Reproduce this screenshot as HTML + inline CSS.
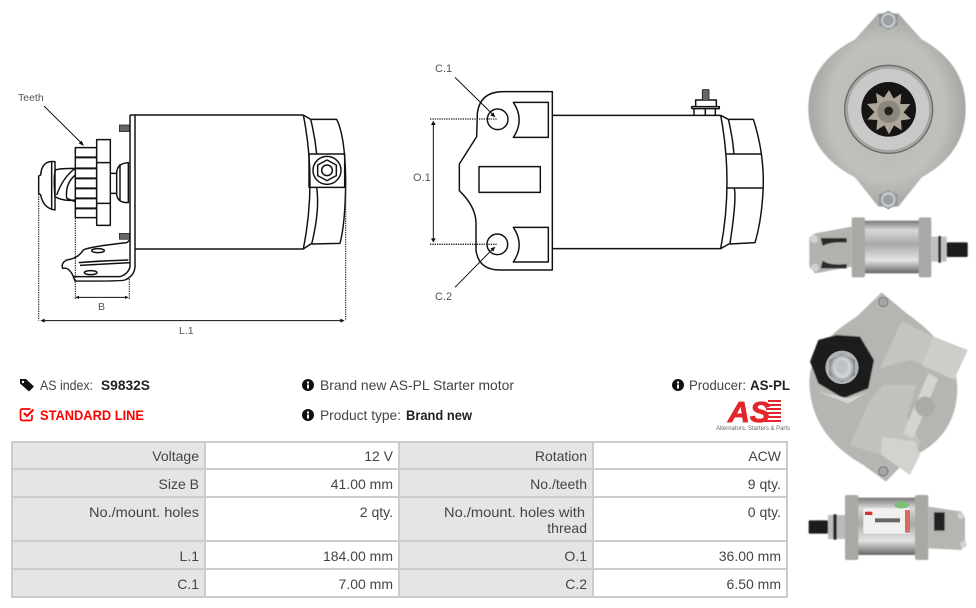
<!DOCTYPE html>
<html><head><meta charset="utf-8"><style>
html,body{margin:0;padding:0;background:#fff;width:976px;height:608px;overflow:hidden}
svg{display:block}
text{font-family:"Liberation Sans",sans-serif}
.l{fill:none;stroke:#111;stroke-width:4.4;stroke-linejoin:round}
.d{fill:none;stroke:#222;stroke-width:3.4;stroke-dasharray:4 3}
.a{fill:none;stroke:#111;stroke-width:3}
.t{font-size:14px;fill:#444}
.r{font-size:14px;fill:#444;text-anchor:end}
.s{font-size:10.5px;fill:#555}
</style></head><body>
<svg width="976" height="608" viewBox="0 0 976 608" xmlns="http://www.w3.org/2000/svg">
<defs>
<linearGradient id="cyl" x1="0" y1="0" x2="0" y2="1"><stop offset="0" stop-color="#777"/><stop offset=".18" stop-color="#d8d8d8"/><stop offset=".45" stop-color="#a9a9a9"/><stop offset=".75" stop-color="#e4e4e4"/><stop offset="1" stop-color="#666"/></linearGradient>
<radialGradient id="hous" cx=".5" cy=".5" r=".5"><stop offset="0" stop-color="#b6b6b2"/><stop offset=".72" stop-color="#c0c0bc"/><stop offset="1" stop-color="#a6a6a2"/></radialGradient>
<radialGradient id="bolt"><stop offset="0" stop-color="#a8aeb2"/><stop offset=".6" stop-color="#d3d8da"/><stop offset="1" stop-color="#858a8e"/></radialGradient>
<filter id="b"><feGaussianBlur stdDeviation="1.8"/></filter>
</defs>

<!-- left line drawing -->
<g transform="translate(0,70) scale(.33333)">
<path class="a" d="M132 108 L247 222"/><path d="M252 228 L236 220 L245 212Z" fill="#111"/>
<path class="l" d="M405 135 H910 M405 537 H910"/>
<path class="l" d="M910 135 Q950 336 910 537 L935 520 M910 135 L932 148 H1010 Q1036 200 1037 336 Q1036 460 1020 520 L935 522 Q960 420 950 352 M932 148 Q945 200 950 252"/>
<path class="l" d="M927 252 H1034 V352 H927 Z"/>
<circle class="l" cx="981" cy="301" r="42"/><polygon class="l" points="981,270 1009,285 1009,317 981,332 953,317 953,285"/><circle class="l" cx="981" cy="301" r="16"/>
<path class="l" d="M390 135 H405 V590 Q403 618 375 630 Q365 634 225 633 L218 615 Q205 590 188 595 Q182 580 200 570 Q235 565 250 540 Q270 530 380 518 L390 510 V135"/>
<path class="l" d="M390 510 V590 Q385 612 360 620 L222 620 M236 578 Q310 572 385 570 M240 586 Q310 582 388 578"/>
<ellipse class="l" cx="294" cy="542" rx="19" ry="6"/><ellipse class="l" cx="272" cy="608" rx="19" ry="6"/>
<path d="M358 165h30v20h-30zM358 490h30v18h-30z" fill="#666" stroke="#222" stroke-width="2"/>
<rect class="l" x="226" y="233" width="64" height="210"/>
<path class="l" d="M226 262H290M226 295H290M226 325H290M226 355H290M226 385H290M226 415H290" style="stroke-width:6"/>
<rect class="l" x="290" y="209" width="41" height="257" style="fill:#fff"/><path class="l" d="M290 278H331M290 400H331"/>
<path class="l" d="M331 310H350V370H331 M350 310 Q350 280 385 278 V398 Q350 398 350 370 M360 282V394"/>
<path class="l" d="M226 295 Q180 295 165 300 M226 390 Q190 395 165 380 M166 300 Q160 320 165 380 M170 375 Q190 320 226 295 M200 385 Q195 340 226 315 M200 385 L226 395"/>
<path class="l" d="M165 275 Q125 270 122 315 L116 318 V370 L122 375 Q130 415 165 420 Z M155 275V420"/>
<path class="d" d="M116 372V752 M226 445V690 M388 620V688 M1037 360V752"/>
<path class="a" d="M230 682H382 M125 752H1030"/>
<path d="M226 682l11-5v10zM386 682l-11-5v10zM121 752l13-6v12zM1034 752l-13-6v12z" fill="#111"/>
</g>
<text x="18" y="101" class="s">Teeth</text>
<text x="98" y="310" class="s">B</text>
<text x="179" y="334" class="s">L.1</text>

<!-- middle line drawing -->
<g transform="translate(400,50) scale(.33333)">
<path class="l" d="M457 125 H310 Q240 125 232 190 L230 260 L178 342 V422 Q228 470 228 520 V600 Q235 660 300 660 H457 Z"/>
<path class="l" d="M340 157H445V262H340Q375 210 340 157Z M340 532H445V636H340Q375 585 340 532Z"/>
<rect class="l" x="237" y="350" width="184" height="77"/>
<circle class="l" cx="293" cy="208" r="31"/><circle class="l" cx="292" cy="583" r="31"/>
<path class="l" d="M457 196H962 M457 596H962"/>
<path class="l" d="M962 196 Q1000 396 962 596 L990 580 Q1010 450 1003 415 M962 196 L985 208 H1060 Q1090 300 1090 396 Q1088 500 1065 578 L990 582 M985 208 Q998 260 1002 312"/>
<path class="l" d="M980 312H1085 M980 414H1088"/>
<path class="l" d="M882 196V176H916V196M916 176V196M946 176V196M875 176V170H958V176H875 M887 170V150H949V170 M908 150V120H926V150"/>
<path d="M908 120h18v30h-18z" fill="#666"/>
<path class="d" d="M90 207H292 M90 583H292" style="stroke-width:4"/>
<path class="a" d="M100 220V568 M165 82 L280 195 M165 712 L280 595"/>
<path d="M100 212l-7 13h14zM100 578l-7-13h14zM286 202l-15-6 9-9zM286 590l-15 6 9 9z" fill="#111"/>
</g>
<text x="435" y="72" class="s" style="font-size:11px">C.1</text>
<text x="413" y="181" class="s" style="font-size:11px">O.1</text>
<text x="435" y="300" class="s" style="font-size:11px">C.2</text>

<!-- top photo -->
<g transform="translate(800,0) scale(.33333)">
<g filter="url(#b)">
<path d="M235 40 L295 40 L365 118 Q497 190 497 325 Q497 460 365 532 L295 620 L235 620 L165 532 Q25 460 25 325 Q25 190 165 118Z" fill="url(#hous)"/>
</g>
<polygon points="265,32 292,46 292,76 265,90 238,76 238,46" fill="url(#bolt)"/><circle cx="265" cy="61" r="16" fill="#9aa0a4"/>
<polygon points="265,570 292,584 292,614 265,628 238,614 238,584" fill="url(#bolt)"/><circle cx="265" cy="599" r="16" fill="#9aa0a4"/>
<circle cx="266" cy="328" r="132" fill="#a5a5a3" stroke="#6a6a68" stroke-width="4"/>
<circle cx="266" cy="328" r="122" fill="#c9c9c8"/>
<circle cx="266" cy="328" r="82" fill="#161414"/>
<path d="M267 268l14 26 23-15-3 31 30 0-20 25 22 20-30 4 2 30-23-15-15 27-14-27-24 15 3-31-30-2 21-22-22-24 31-3-4-30 24 14z" fill="#ada698" transform="translate(0,2)"/>
<circle cx="266" cy="335" r="34" fill="#8a877e"/><circle cx="266" cy="333" r="13" fill="#25221f"/>
</g>
<!-- side photo 1 -->
<g transform="translate(800,0) scale(.33333)">
<g filter="url(#b)">
<path d="M155 680 L45 700 L28 712 V800 L45 820 L155 800Z" fill="#b2b2af"/>
<path d="M62 714 H140 V728 Q90 724 68 738Z M62 805 H140 V792 Q90 798 68 782Z" fill="#2a2a2a"/>
<circle cx="42" cy="717" r="12" fill="#d2d2d0"/><circle cx="45" cy="803" r="12" fill="#d2d2d0"/>
<rect x="190" y="662" width="170" height="158" fill="url(#cyl)"/>
<rect x="155" y="652" width="40" height="180" rx="6" fill="#a8a8a5"/>
<rect x="356" y="652" width="38" height="180" rx="6" fill="#a8a8a5"/>
<path d="M394 710 H440 V785 H394Z" fill="#c0c0c0"/>
<rect x="415" y="708" width="8" height="80" fill="#222"/>
<rect x="440" y="727" width="63" height="44" rx="3" fill="#1f1f1f"/>
</g>
</g>
<!-- lower photo -->
<g transform="translate(800,285) scale(.33333)">
<g filter="url(#b)">
<path d="M245 22 L320 85 Q470 190 472 310 Q470 460 325 520 L258 590 L190 540 Q30 450 28 290 Q30 180 170 95Z" fill="#b5b5b1"/>
<path d="M305 108 L400 155 L503 195 L462 285 L375 240 L330 225 L240 250 Z" fill="#c4c4c0"/>
<path d="M400 158 L503 195 L462 285 L365 240Z" fill="#cdcdca"/>
<path d="M210 345 L250 300 L350 300 L320 395 L360 470 L330 570 L245 510 L150 480 Z" fill="#c2c2bf"/>
<path d="M385 265 L415 280 L340 460 L310 445Z" fill="#d4d4d1"/>
<path d="M245 455 L345 470 L360 510 L330 570 L245 510Z" fill="#d2d2cf"/>
<circle cx="375" cy="365" r="30" fill="#aaaaa7"/>
<polygon points="110,150 180,155 222,225 205,310 130,340 55,295 30,230 55,165" fill="#1c1c1c"/>
<path d="M55 320 L145 355 L195 325 L145 340Z" fill="#d6d6d4"/>
</g>
<circle cx="126" cy="247" r="50" fill="#aeb3b5"/><polygon points="126,205 165,225 165,270 126,292 88,270 88,225" fill="url(#bolt)"/><circle cx="124" cy="244" r="20" fill="#bfc3c5"/>
<circle cx="250" cy="51" r="14" fill="#a2a6a8" stroke="#7a7d7f" stroke-width="3"/><circle cx="250" cy="559" r="14" fill="#a2a6a8" stroke="#7a7d7f" stroke-width="3"/>
<g filter="url(#b)">
<rect x="26" y="706" width="58" height="40" rx="3" fill="#1f1f1f"/>
<rect x="84" y="690" width="55" height="72" fill="#bcbcbc"/><rect x="100" y="688" width="10" height="76" fill="#222"/>
<rect x="170" y="638" width="180" height="172" fill="url(#cyl)"/>
<rect x="135" y="630" width="40" height="195" rx="6" fill="#a8a8a5"/>
<rect x="345" y="630" width="40" height="195" rx="6" fill="#a8a8a5"/>
<path d="M385 665 L485 680 L495 700 V770 L485 795 L385 790Z" fill="#b5b5b2"/>
<rect x="402" y="682" width="32" height="55" fill="#222"/>
<circle cx="482" cy="692" r="10" fill="#d2d2d0"/><circle cx="490" cy="778" r="10" fill="#d2d2d0"/>
</g>
<rect x="190" y="670" width="140" height="76" fill="#f0f0f0"/>
<rect x="315" y="675" width="15" height="68" fill="#d86a60"/>
<ellipse cx="305" cy="660" rx="22" ry="10" fill="#7bbf78"/>
<rect x="225" y="700" width="75" height="12" fill="#666"/>
<rect x="195" y="680" width="22" height="10" fill="#d8322f"/>
</g>

<!-- info -->
<path d="M20 379h6l8 7.5-5 5-9-8z" fill="#111"/>
<circle cx="23" cy="382" r="1.2" fill="#fff"/>
<text x="40" y="390" class="t" textLength="53" lengthAdjust="spacingAndGlyphs">AS index:</text>
<text x="101" y="390" font-size="14" font-weight="700" fill="#222" textLength="49" lengthAdjust="spacingAndGlyphs">S9832S</text>
<g fill="none" stroke="#f00" stroke-width="1.7"><path d="M32 415v3.5q0 2-2 2h-7.5q-2 0-2-2v-7.5q0-2 2-2h8"/><path d="M24 413l3 3 6.5-6.5" stroke-width="2.2"/></g>
<text x="40" y="420" font-size="14" font-weight="700" fill="#f00" textLength="104" lengthAdjust="spacingAndGlyphs">STANDARD LINE</text>

<circle cx="308" cy="385" r="6" fill="#111"/><rect x="307" y="384.5" width="2" height="4" fill="#fff"/><rect x="307" y="381.5" width="2" height="2" fill="#fff"/>
<text x="320" y="390" class="t" textLength="194" lengthAdjust="spacingAndGlyphs">Brand new AS-PL Starter motor</text>
<circle cx="308" cy="415" r="6" fill="#111"/><rect x="307" y="414.5" width="2" height="4" fill="#fff"/><rect x="307" y="411.5" width="2" height="2" fill="#fff"/>
<text x="320" y="420" class="t" textLength="81" lengthAdjust="spacingAndGlyphs">Product type:</text>
<text x="406" y="420" font-size="14" font-weight="700" fill="#222" textLength="66" lengthAdjust="spacingAndGlyphs">Brand new</text>
<circle cx="678" cy="385" r="6" fill="#111"/><rect x="677" y="384.5" width="2" height="4" fill="#fff"/><rect x="677" y="381.5" width="2" height="2" fill="#fff"/>
<text x="689" y="390" class="t" textLength="57" lengthAdjust="spacingAndGlyphs">Producer:</text>
<text x="750" y="390" font-size="14" font-weight="700" fill="#222" textLength="40" lengthAdjust="spacingAndGlyphs">AS-PL</text>
<text x="728" y="422" font-size="29" font-weight="700" font-style="italic" fill="#e3262b" stroke="#e3262b" stroke-width=".8" textLength="42" lengthAdjust="spacingAndGlyphs">AS</text>
<g fill="#e3262b"><rect x="768" y="400" width="13" height="2"/><rect x="767" y="404" width="14" height="2"/><rect x="766" y="408" width="15" height="2"/><rect x="766" y="412" width="15" height="2"/><rect x="765" y="416" width="16" height="2"/><rect x="762" y="420" width="19" height="2"/></g>
<text x="716" y="430" font-size="6.5" fill="#666" textLength="74" lengthAdjust="spacingAndGlyphs">Alternators, Starters &amp; Parts</text>

<!-- table -->
<rect x="12" y="442" width="774" height="155" fill="#fff"/>
<rect x="12" y="442" width="193" height="155" fill="#e5e5e5"/>
<rect x="399" y="442" width="194" height="155" fill="#e5e5e5"/>
<g fill="#ccc">
<rect x="11" y="441" width="776" height="2"/><rect x="11" y="468" width="776" height="2"/><rect x="11" y="496" width="776" height="2"/><rect x="11" y="540" width="776" height="2"/><rect x="11" y="568" width="776" height="2"/><rect x="11" y="596" width="776" height="2"/>
<rect x="11" y="441" width="2" height="157"/><rect x="204" y="441" width="2" height="157"/><rect x="398" y="441" width="2" height="157"/><rect x="592" y="441" width="2" height="157"/><rect x="786" y="441" width="2" height="157"/>
</g>
<text x="199" y="461" class="r">Voltage</text><text x="393" y="461" class="r">12 V</text><text x="587" y="461" class="r">Rotation</text><text x="781" y="461" class="r">ACW</text>
<text x="199" y="489" class="r">Size B</text><text x="393" y="489" class="r">41.00 mm</text><text x="587" y="489" class="r">No./teeth</text><text x="781" y="489" class="r">9 qty.</text>
<text x="199" y="517" class="r" textLength="110" lengthAdjust="spacingAndGlyphs">No./mount. holes</text><text x="393" y="517" class="r">2 qty.</text><text x="585" y="517" class="r" textLength="141" lengthAdjust="spacingAndGlyphs">No./mount. holes with</text><text x="587" y="533" class="r">thread</text><text x="781" y="517" class="r">0 qty.</text>
<text x="199" y="561" class="r">L.1</text><text x="393" y="561" class="r">184.00 mm</text><text x="587" y="561" class="r">O.1</text><text x="781" y="561" class="r">36.00 mm</text>
<text x="199" y="589" class="r">C.1</text><text x="393" y="589" class="r">7.00 mm</text><text x="587" y="589" class="r">C.2</text><text x="781" y="589" class="r">6.50 mm</text>
</svg>
</body></html>
